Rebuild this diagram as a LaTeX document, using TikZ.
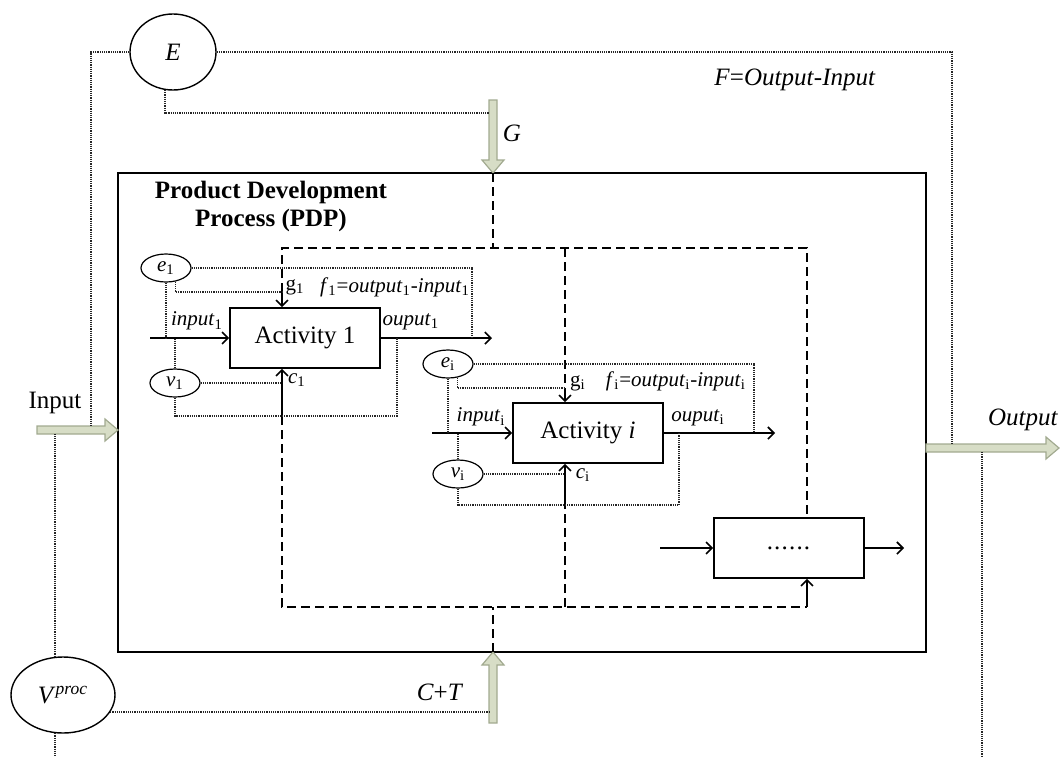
\documentclass[tikz,border=0pt]{standalone}
\usepackage{fontspec}
\setmainfont{Liberation Serif}
\usetikzlibrary{arrows.meta,shapes.geometric}

\definecolor{arrfill}{HTML}{D7DDC6}
\definecolor{arrline}{HTML}{A2AA90}

% broad hollow arrow: start, angle, length (px units)
\newcommand{\fatarrow}[3]{%
  \begin{scope}[shift={#1},rotate=#2]
    \filldraw[fatarr] (0,-4) -- (#3-13,-4) -- (#3-13,-11) -- (#3,0)
      -- (#3-13,11) -- (#3-13,4) -- (0,4) -- cycle;
  \end{scope}}

\begin{document}
\begin{tikzpicture}[x=0.5pt,y=-0.5pt,
  >={Straight Barb[length=3pt,width=6pt]},
  font=\fontsize{12.5}{14}\selectfont,
  pdp/.style={draw,line width=1.4pt,minimum width=404pt,minimum height=239.5pt,inner sep=0pt},
  activity/.style={draw,line width=0.8pt,minimum width=75pt,minimum height=30pt,inner sep=0pt},
  var/.style={draw,ellipse,line width=0.6pt,minimum width=25pt,minimum height=14pt,inner sep=0pt,
    font=\fontsize{10.5}{12}\selectfont},
  bigvar/.style={draw,ellipse,line width=0.7pt,inner sep=0pt},
  txt/.style={inner sep=0pt},
  lbl/.style={inner sep=0pt,font=\fontsize{10.5}{12}\selectfont},
  flow/.style={->,line width=0.8pt},
  ctrl/.style={line width=0.8pt,dash pattern=on 4.5pt off 2.5pt},
  fb/.style={line width=0.7pt,dash pattern=on 0.6pt off 0.5pt,black!85},
  fatarr/.style={fill=arrfill,draw=arrline,line width=0.6pt}]
  \useasboundingbox (0,0) rectangle (1060,756);

  % process box
  \node[pdp] (pdp) at (522,412.5) {};
  \node[txt,font=\fontsize{12.5}{14}\selectfont\bfseries,align=center] (title) at (271,206)
    {Product Development\\Process (PDP)};

  % environment and process variables
  \node[bigvar,minimum width=43pt,minimum height=38pt] (E) at (173,52) {\textit{E}};
  \node[bigvar,minimum width=52pt,minimum height=38pt] (V) at (63,695)
    {\textit{V}\textsuperscript{\textit{proc}}};

  % activities
  \node[activity] (a1) at (305,338) {Activity 1};
  \node[activity] (ai) at (588,433) {Activity \textit{i}};
  \node[activity] (an) at (789,548) {\kern-0.5pt.\kern0.6pt.\kern0.6pt.\kern0.6pt.\kern0.6pt.\kern0.6pt.};
  \node[var] (e1) at (166,268) {\textit{e}\textsubscript{1}};
  \node[var] (v1) at (175,383) {\textit{v}\textsubscript{1}};
  \node[var] (ei) at (448,364) {\textit{e}\textsubscript{i}};
  \node[var] (vi) at (458,474) {\textit{v}\textsubscript{i}};

  % big arrows
  \fatarrow{(493,100)}{-90}{73}
  \fatarrow{(493,723)}{90}{71}
  \fatarrow{(37,430)}{0}{81}
  \fatarrow{(926,448)}{0}{133}
  \node[txt] (G) at (512,133) {\textit{G}};
  \node[txt] (CT) at (440,692) {\textit{C}+\textit{T}};
  \node[txt] (F) at (795,80) {\textit{F}=\textit{Output}-\textit{Input}};
  \node[txt] (inlbl) at (55,403) {Input};
  \node[txt] (outlbl) at (1023,420) {\textit{Output}};

  % labels of activities
  \node[lbl] (in1) at (197,321) {\textit{input}\textsubscript{1}};
  \node[lbl] (out1) at (411,322) {\textit{ouput}\textsubscript{1}};
  \node[lbl] (g1) at (295,287) {g\textsubscript{1}};
  \node[lbl] (f1) at (395,287) {\textit{f}\textsubscript{1}=\textit{output}\textsubscript{1}-\textit{input}\textsubscript{1}};
  \node[lbl] (c1) at (297,380) {\textit{c}\textsubscript{1}};
  \node[lbl] (ini) at (481,417) {\textit{input}\textsubscript{i}};
  \node[lbl] (outi) at (698,418) {\textit{ouput}\textsubscript{i}};
  \node[lbl] (gi) at (578,383) {g\textsubscript{i}};
  \node[lbl] (fi) at (676,381) {\textit{f}\textsubscript{i}=\textit{output}\textsubscript{i}-\textit{input}\textsubscript{i}};
  \node[lbl] (ci) at (583,475) {\textit{c}\textsubscript{i}};

  % points
  \coordinate (g1in) at (282,292);
  \coordinate (c1in) at (282,416);
  \coordinate (giin) at (565,388);
  \coordinate (ciin) at (565,505);
  \coordinate (gtip) at (493,173);
  \coordinate (ctip) at (493,652);
  \coordinate (src1) at (150,338);
  \coordinate (snk1) at (492,338);
  \coordinate (srci) at (432,433);
  \coordinate (snki) at (775,433);
  \coordinate (srcn) at (660,548);
  \coordinate (snkn) at (904,548);
  \coordinate (inTop) at (91,426);
  \coordinate (inBot) at (54,434);
  \coordinate (outTop) at (952,444);
  \coordinate (outBot) at (982,452);
  \coordinate (pageBot) at (0,756);
  \coordinate (gShaft) at (489,113);
  \coordinate (ctShaft) at (489,700);

  % dashed control lines
  \draw[ctrl] (gtip) -- (493,248);
  \draw[ctrl] (ctip) -- (493,607);
  \draw[ctrl] (g1in) -- (282,248) -- (807,248) -- (an.north -| 807,0);
  \draw[ctrl] (565,248) -- (giin);
  \draw[ctrl] (c1in) -- (282,607) -- (807,607);
  \draw[ctrl] (565,607) -- (ciin);
  \draw[flow] (807,607) -- (an.south -| 807,0);
  \draw[flow] (g1in) -- (a1.north -| g1in);
  \draw[flow] (c1in) -- (a1.south -| c1in);
  \draw[flow] (giin) -- (ai.north -| giin);
  \draw[flow] (ciin) -- (ai.south -| ciin);

  % flows
  \draw[flow] (src1) -- (a1.west);
  \draw[flow] (a1.east) -- (snk1);
  \draw[flow] (srci) -- (ai.west);
  \draw[flow] (ai.east) -- (snki);
  \draw[flow] (srcn) -- (an.west);
  \draw[flow] (an.east) -- (snkn);

  % activity 1 loops
  \draw[fb] (e1.east) -| (472,338);
  \draw[fb] (e1.south) -- (e1.south |- src1);
  \draw[fb] (e1.-55) |- (g1in);
  \draw[fb] (v1.north) -- (v1.north |- src1);
  \draw[fb] (v1.east) -- (v1.east -| c1in);
  \draw[fb] (v1.south) |- (397,416) -- (397,338);

  % activity i loops
  \draw[fb] (ei.east) -| (754,433);
  \draw[fb] (ei.south) -- (ei.south |- srci);
  \draw[fb] (ei.-55) |- (giin);
  \draw[fb] (vi.north) -- (vi.north |- srci);
  \draw[fb] (vi.east) -- (vi.east -| ciin);
  \draw[fb] (vi.south) |- (679,505) -- (679,433);

  % process level loops
  \draw[fb] (E.west) -| (inTop);
  \draw[fb] (E.east) -| (outTop);
  \draw[fb] (E.-102) |- (gShaft);
  \draw[fb] (V.102) -- (V.102 |- inBot);
  \draw[fb] (V.-102) -- (V.-102 |- pageBot);
  \draw[fb] (V.-20) -- (V.-20 -| ctShaft);
  \draw[fb] (outBot) -- (outBot |- pageBot);
\end{tikzpicture}
\end{document}
